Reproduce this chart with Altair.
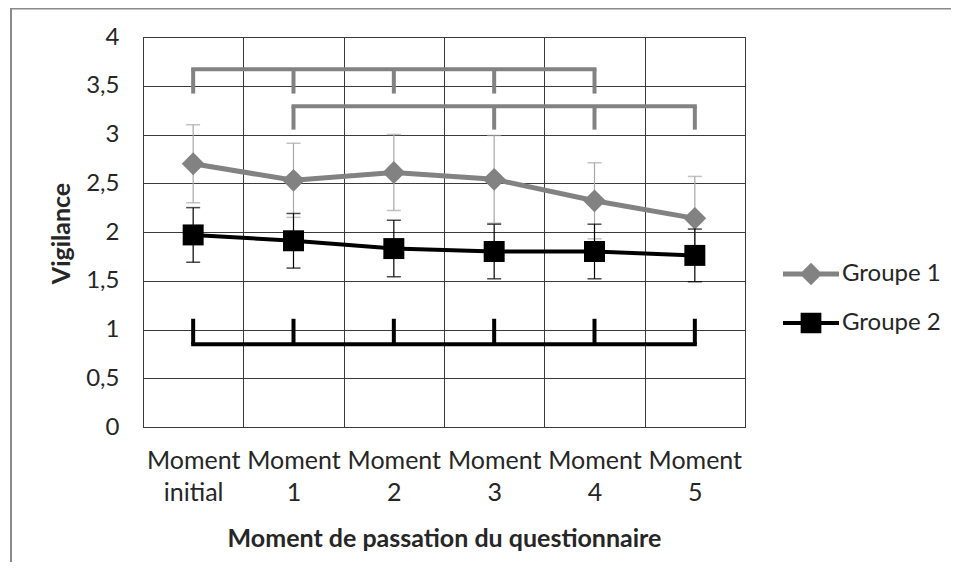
import altair as alt
import pandas as pd

# ---------------- data ----------------
moments = ["Moment initial", "Moment 1", "Moment 2", "Moment 3", "Moment 4", "Moment 5"]
groups = ["Groupe 1", "Groupe 2"]

g1_mean = [2.70, 2.53, 2.61, 2.54, 2.32, 2.14]
g1_err = [0.40, 0.38, 0.39, 0.45, 0.39, 0.43]
g2_mean = [1.97, 1.91, 1.83, 1.80, 1.80, 1.76]
g2_err = [0.28, 0.28, 0.29, 0.28, 0.28, 0.27]

y_ticks = [0, 0.5, 1, 1.5, 2, 2.5, 3, 3.5, 4]

# significance brackets
br_start = ["Moment initial", "Moment 1", "Moment initial"]
br_end = ["Moment 4", "Moment 5", "Moment 5"]
br_level = [3.67, 3.29, 0.85]
br_tip = [3.42, 3.05, 1.11]
br_ticks = [
    ["Moment initial", "Moment 1", "Moment 2", "Moment 3", "Moment 4"],
    ["Moment 1", "Moment 3", "Moment 4", "Moment 5"],
    ["Moment initial", "Moment 1", "Moment 2", "Moment 3", "Moment 4", "Moment 5"],
]
br_group = ["Groupe 1", "Groupe 1", "Groupe 2"]

# ---------------- tables ----------------
rows = []
for g, means, errs in [("Groupe 1", g1_mean, g1_err), ("Groupe 2", g2_mean, g2_err)]:
    for m, v, e in zip(moments, means, errs):
        rows.append({"moment": m, "groupe": g, "mean": v, "lo": v - e, "hi": v + e})
df = pd.DataFrame(rows)

hrows, trows = [], []
for s, e, lv, tp, tk, g in zip(br_start, br_end, br_level, br_tip, br_ticks, br_group):
    hrows.append({"start": s, "end": e, "level": lv, "groupe": g})
    for m in tk:
        trows.append({"moment": m, "level": lv, "tip": tp, "groupe": g})
dfh = pd.DataFrame(hrows)
dft = pd.DataFrame(trows)

# ---------------- style ----------------
FONT = "Lato"
TEXT = "#262626"
GRID = "#3a3a3a"
GREY = "#828282"
ERR_GREY = "#a8a8a8"
BLACK = "#000000"

xscale = alt.Scale(type="band", domain=moments, paddingInner=0, paddingOuter=0)
yscale = alt.Scale(domain=[0, 4])

xaxis = alt.Axis(
    title="Moment de passation du questionnaire",
    tickBand="extent", grid=True, gridColor=GRID, gridWidth=1,
    ticks=False, domainColor=GRID, labelAngle=0,
    labelExpr="split(datum.label, ' ')", labelLineHeight=32,
    labelFont=FONT, labelFontSize=25, labelColor=TEXT, labelPadding=21,
    titleFont=FONT, titleFontSize=25, titleFontWeight="bold", titleColor=TEXT,
    titleY=111, titleBaseline="middle",
)
yaxis = alt.Axis(
    title="Vigilance", values=y_ticks,
    labelExpr="replace(format(datum.value, '~g'), '.', ',')",
    grid=True, gridColor=GRID, gridWidth=1, ticks=False, domainColor=GRID,
    labelFont=FONT, labelFontSize=24, labelColor=TEXT, labelPadding=24,
    titleFont=FONT, titleFontSize=25, titleFontWeight="bold", titleColor=TEXT,
    titleX=-82, titleY=196, titleBaseline="middle",
)


def X(field="moment"):
    return alt.X(f"{field}:N", scale=xscale, axis=xaxis)


def X2(field):
    return alt.X2(f"{field}:N")


def Y(field):
    return alt.Y(f"{field}:Q", scale=yscale, axis=yaxis)


layers = []
series_style = {
    "Groupe 1": dict(color=GREY, err=ERR_GREY, lw=5, shape="diamond", size=520),
    "Groupe 2": dict(color=BLACK, err=BLACK, lw=4, shape="square", size=440),
}

# brackets
for g in groups:
    st = series_style[g]
    hb = alt.Chart(dfh).transform_filter(alt.datum.groupe == g).mark_rule(
        color=st["color"], strokeWidth=4, strokeCap="square"
    ).encode(x=X("start"), x2=X2("end"), y=Y("level"))
    tb = alt.Chart(dft).transform_filter(alt.datum.groupe == g).mark_rule(
        color=st["color"], strokeWidth=4, strokeCap="butt"
    ).encode(x=X("moment"), y=Y("level"), y2=alt.Y2("tip:Q"))
    layers += [hb, tb]

# error bars, lines, markers
for g in groups:
    st = series_style[g]
    base = alt.Chart(df).transform_filter(alt.datum.groupe == g)
    err = base.mark_rule(color=st["err"], strokeWidth=1.2).encode(
        x=X(), y=Y("lo"), y2=alt.Y2("hi:Q"))
    cap_hi = base.mark_tick(color=st["err"], size=14, thickness=1.5).encode(x=X(), y=Y("hi"))
    cap_lo = base.mark_tick(color=st["err"], size=14, thickness=1.5).encode(x=X(), y=Y("lo"))
    line = base.mark_line(color=st["color"], strokeWidth=st["lw"]).encode(x=X(), y=Y("mean"))
    pts = base.mark_point(filled=True, opacity=1, color=st["color"], shape=st["shape"],
                          size=st["size"]).encode(x=X(), y=Y("mean"))
    layers += [err, cap_hi, cap_lo, line, pts]

# legend (empty data, explicit domain)
leg_diamond = "M-1,-0.09L1,-0.09L1,0.09L-1,0.09Z M0,-0.4L0.4,0L0,0.4L-0.4,0Z"
leg_square = "M-1,-0.07L1,-0.07L1,0.07L-1,0.07Z M-0.37,-0.37L0.37,-0.37L0.37,0.37L-0.37,0.37Z"
legend_layer = alt.Chart(df).transform_filter("false").mark_point(filled=True).encode(
    x=X(), y=Y("mean"),
    color=alt.Color("groupe:N", scale=alt.Scale(domain=groups, range=[GREY, BLACK]),
                    legend=alt.Legend(title=None)),
    shape=alt.Shape("groupe:N", scale=alt.Scale(domain=groups, range=[leg_diamond, leg_square]),
                    legend=alt.Legend(title=None)),
)
layers.append(legend_layer)

# outer frame (decoration, left and top edges)
frame_left = alt.Chart(pd.DataFrame({"k": [0]})).mark_rule(color="#8a8a8a", strokeWidth=2).encode(
    x=alt.value(-132), y=alt.value(-29), y2=alt.value(560))
frame_top = alt.Chart(pd.DataFrame({"k": [0]})).mark_rule(color="#8a8a8a", strokeWidth=2).encode(
    x=alt.value(-133), x2=alt.value(820), y=alt.value(-28.5))
layers += [frame_left, frame_top]

chart = alt.layer(*layers).properties(
    width=602, height=390,
    autosize=alt.AutoSizeParams(type="none"),
    padding={"left": 135, "top": 29, "right": 206, "bottom": 135},
).configure_view(stroke=GRID, strokeWidth=1).configure_legend(
    orient="none", legendX=640, legendY=209, padding=0, offset=0,
    symbolSize=3136, symbolStrokeWidth=0, symbolOpacity=1,
    labelFont=FONT, labelFontSize=24, labelColor=TEXT, labelOffset=3,
    rowPadding=9,
)

chart.save("out.html", embed_options={"renderer": "svg", "actions": False})
